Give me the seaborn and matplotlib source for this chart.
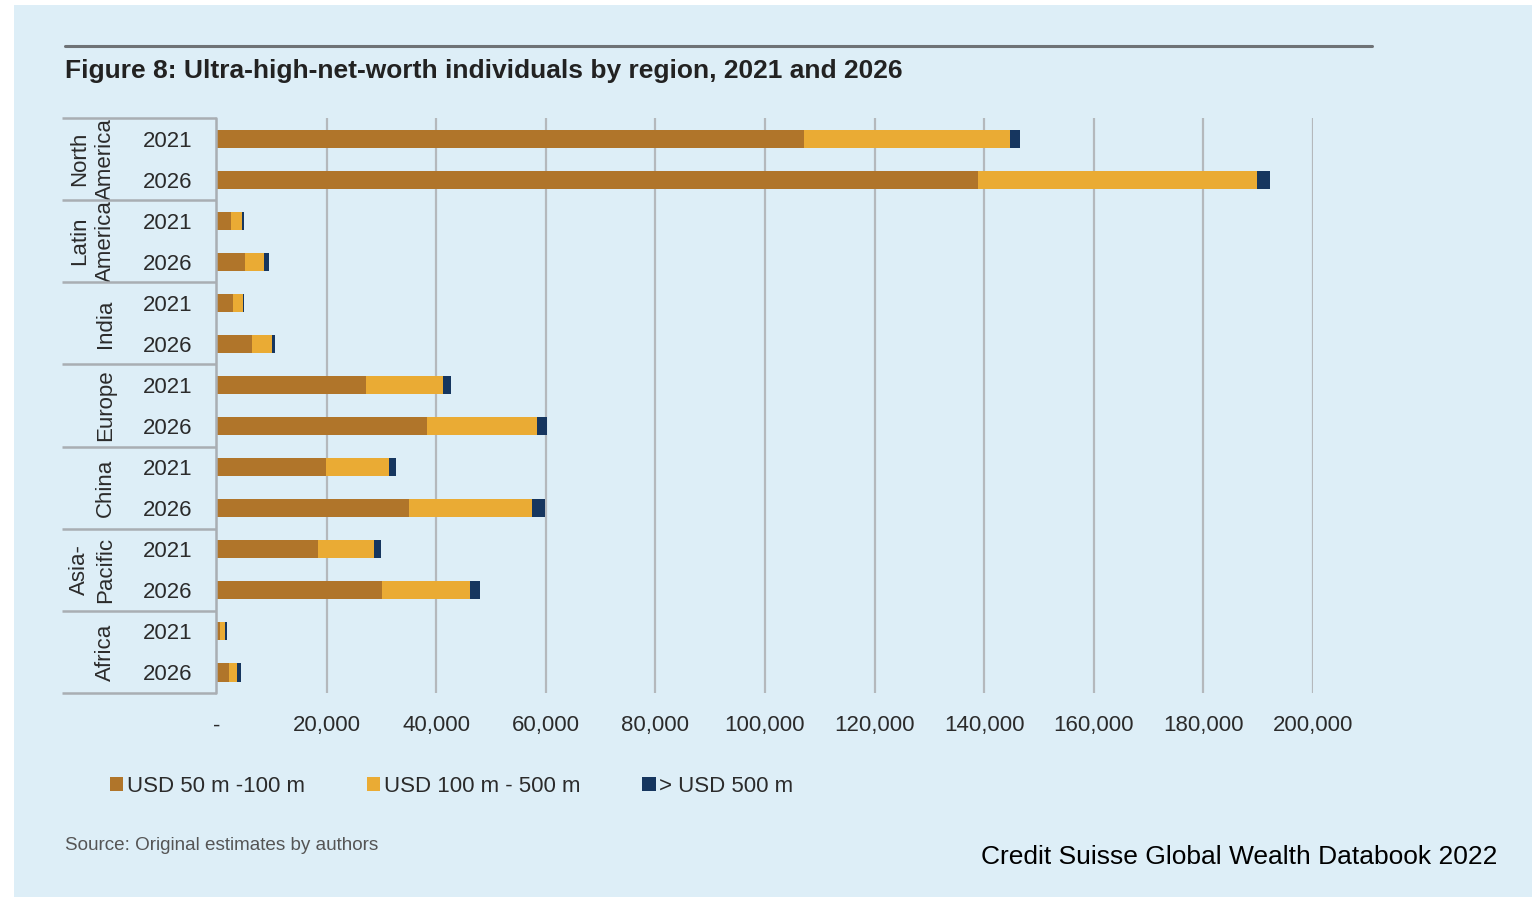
import numpy as np
import pandas as pd
import matplotlib
matplotlib.use("Agg")
import matplotlib.pyplot as plt
from matplotlib.patches import Rectangle, Patch
import seaborn as sns

# ---- data ----
regions = ["North\nAmerica", "Latin\nAmerica", "India", "Europe", "China", "Asia-\nPacific", "Africa"]
years = ["2021", "2026"]
band_labels = ["USD 50 m -100 m", "USD 100 m - 500 m", "> USD 500 m"]

# one value per row, rows ordered region by region (2021, 2026)
usd_50_100 = [107100, 138900, 2600, 5200, 2900, 6300, 27200, 38300, 19900, 35000, 18500, 30100, 600, 2200]
usd_100_500 = [37600, 50900, 1900, 3400, 1800, 3700, 14000, 20100, 11500, 22500, 10100, 16100, 900, 1500]
usd_500_plus = [1800, 2300, 500, 900, 300, 600, 1500, 1800, 1300, 2400, 1300, 1800, 400, 600]

x_ticks = [0, 20000, 40000, 60000, 80000, 100000, 120000, 140000, 160000, 180000, 200000]

colors = ["#B0752A", "#EAAB34", "#16365F"]
bg = "#DDEEF7"
grid_col = "#B4B8BC"
text_col = "#2B2B2B"

sns.set_theme(style="white")
plt.rcParams["font.family"] = ["Liberation Sans", "DejaVu Sans"]

rows = [f"{r.replace(chr(10), ' ')} {y}" for r in regions for y in years]
df = pd.DataFrame({
    "row": rows,
    "b1": usd_50_100,
    "b2": usd_100_500,
    "b3": usd_500_plus,
})
df["c1"] = df["b1"]
df["c2"] = df["b1"] + df["b2"]
df["c3"] = df["c2"] + df["b3"]

W, H = 1532, 899
fig = plt.figure(figsize=(W / 100, H / 100), dpi=100, facecolor="white")
fig.patches.append(Rectangle((14 / W, 2 / H), 1 - 14 / W, 1 - 7 / H,
                             transform=fig.transFigure, facecolor=bg,
                             edgecolor="none", zorder=-10))

left, right = 217, 1313
top, bottom = 118, 693
ax = fig.add_axes([left / W, 1 - bottom / H, (right - left) / W, (bottom - top) / H])
ax.set_facecolor("none")

# stacked bars: draw cumulative totals, longest first
for col, c in zip(["c3", "c2", "c1"], colors[::-1]):
    sns.barplot(data=df, x=col, y="row", order=rows, color=c, orient="h",
                width=0.44, saturation=1, linewidth=0, edgecolor="none",
                ax=ax, zorder=3)

ax.set_xlim(0, 200000)
ax.set_ylim(len(rows) - 0.5, -0.5)
ax.set_xlabel("")
ax.set_ylabel("")
for s in ax.spines.values():
    s.set_visible(False)

# vertical gridlines
for t in x_ticks[1:]:
    ax.axvline(t, color=grid_col, lw=1.6, zorder=1)

ax.set_xticks(x_ticks)
ax.set_xticklabels(["-" if t == 0 else f"{t:,}" for t in x_ticks],
                   fontsize=16, color=text_col)
ax.tick_params(axis="x", length=0, pad=16)
ax.set_yticks([])

# year labels and region group labels
ytr = ax.get_yaxis_transform()
line_col = "#A9AEB3"
for i, r in enumerate(rows):
    ax.text(-0.045, i, years[i % 2], transform=ytr, ha="center",
            va="center_baseline", fontsize=16, color=text_col)
for g, name in enumerate(regions):
    ax.text(-0.092, 2 * g + 0.5, name, transform=ytr, rotation=90,
            ha="right", va="center", fontsize=16, color=text_col,
            multialignment="center", linespacing=1.3)
x_box = (62 - left) / (right - left)
x_sp = (216 - left) / (right - left)
for g in range(len(regions) + 1):
    yb = 2 * g - 0.5
    ax.plot([x_box, x_sp], [yb, yb], transform=ytr, color=line_col, lw=1.8,
            clip_on=False, solid_capstyle="butt", zorder=4)
ax.plot([x_sp, x_sp], [-0.5, len(rows) - 0.5], transform=ytr, color=line_col,
        lw=1.8, clip_on=False, zorder=4)

# title and rule
fig.add_artist(plt.Line2D([65 / W, 1372 / W], [1 - 46 / H, 1 - 46 / H],
                          color="#6E7276", lw=2.2))
fig.text(65 / W, 1 - 71 / H,
         "Figure 8: Ultra-high-net-worth individuals by region, 2021 and 2026",
         ha="left", va="center", fontsize=19, fontweight="bold", color="#222222")

# legend
handles = [Patch(facecolor=c, edgecolor="none") for c in colors]
fig.legend(handles, band_labels, loc="center left",
           bbox_to_anchor=(90 / W, 1 - 786 / H), ncol=3, frameon=False,
           fontsize=16, handlelength=0.6, handleheight=0.6, handletextpad=0.15,
           columnspacing=2.8, labelcolor=text_col)

fig.text(65 / W, 1 - 846 / H, "Source: Original estimates by authors",
         ha="left", va="center", fontsize=13.6, color="#555555")
fig.text(1497 / W, 1 - 857 / H, "Credit Suisse Global Wealth Databook 2022",
         ha="right", va="center", fontsize=19, color="black")

fig.savefig("out.png", dpi=100, facecolor="white")
